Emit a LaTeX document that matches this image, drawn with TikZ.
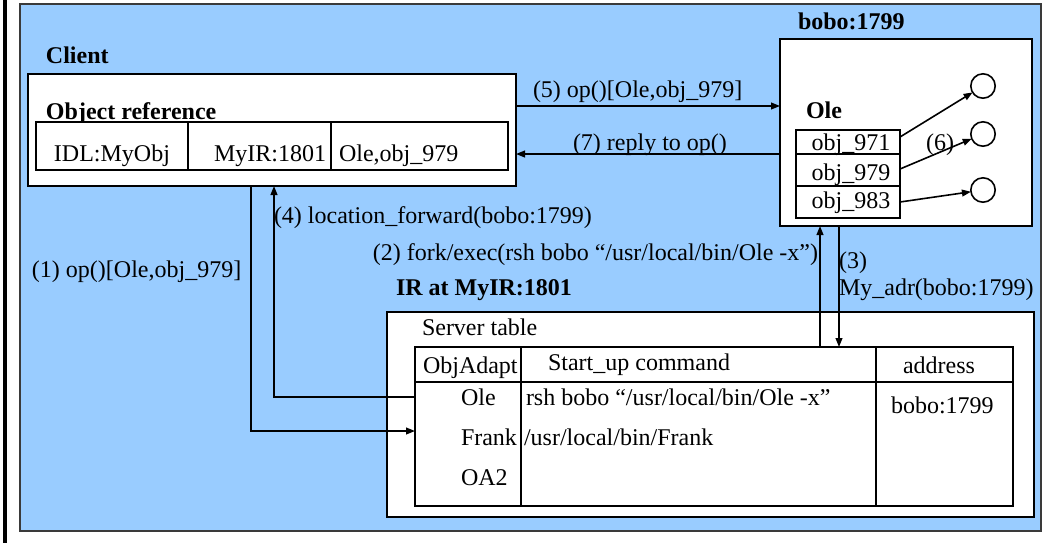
\documentclass[tikz,border=0pt]{standalone}
\usepackage{fontspec}
\setmainfont{Liberation Serif}
\usetikzlibrary{arrows.meta,fit,calc}
\definecolor{bgblue}{HTML}{99CCFF}
\definecolor{frameg}{HTML}{3A3A3A}
\begin{document}
\begin{tikzpicture}[x=0.5pt,y=-0.5pt,
  every node/.style={inner sep=0pt, outer sep=0pt},
  txt/.style={font=\fontsize{12}{14}\selectfont, anchor=base west},
  btxt/.style={font=\fontsize{12}{14}\selectfont\bfseries, anchor=base west},
  box/.style={draw=black, fill=white, line width=0.8pt, inner sep=0pt, fit={#1}},
  ln/.style={draw=black, line width=0.8pt},
  arr/.style={draw=black, line width=0.8pt, -{Triangle[length=4.5pt,width=3.4pt]}},
  blob/.style={draw=black, fill=white, line width=0.8pt, circle, minimum size=12.2pt},
]
\useasboundingbox (0,0) rectangle (1049,543);
\fill[white] (0,0) rectangle (1049,543);
\draw[line width=1.6pt] (5,0) -- (5,543);
\node[draw=frameg, fill=bgblue, line width=1.1pt, fit={(20,4) (1041,531)}] (bg) {};

% helper coordinates
\coordinate (y5) at (0,106);
\coordinate (y7) at (0,154);
\coordinate (x1) at (251,0);
\coordinate (y1) at (0,431);
\coordinate (x4) at (274,0);
\coordinate (y4) at (0,397);
\coordinate (x2) at (820,0);
\coordinate (x3) at (839,0);

% Client
\node[btxt] (clientlbl) at (46,63) {Client};
\node[box={(28,74) (516,186)}] (client) {};
\node[btxt] (reflbl) at (46,119) {Object reference};
\node[box={(36,122) (508,170)}] (ref) {};
\coordinate (d1) at (188,0);
\coordinate (d2) at (331,0);
\draw[ln] (ref.north -| d1) -- (ref.south -| d1);
\draw[ln] (ref.north -| d2) -- (ref.south -| d2);
\node[txt] (idl) at (54,161) {IDL:MyObj};
\node[txt] (myir) at (214,161) {MyIR:1801};
\node[txt] (oleobj) at (339,161) {Ole,obj\_979};

% bobo server
\node[btxt] (bobolbl) at (798,29) {bobo:1799};
\node[box={(780,39) (1032,226)}] (bobo) {};
\node[btxt] (olelbl) at (806,118) {Ole};
\node[box={(796,130) (900,154)}] (o971) {};
\node[box={(796,154) (900,186)}] (o979) {};
\node[box={(796,186) (900,218)}] (o983) {};
\node[txt, anchor=base] at (851,150) {obj\_971};
\node[txt, anchor=base] at (851,180) {obj\_979};
\node[txt, anchor=base] at (851,208) {obj\_983};
\node[blob] (c1) at (983,86) {};
\node[blob] (c2) at (983,134) {};
\node[blob] (c3) at (983,190) {};
\draw[arr] ($(o971.east)+(0,-5)$) -- (c1);
\draw[arr] ($(o979.east)+(0,-1)$) -- (c2);
\draw[arr] (o983.east) -- (c3);
\node[txt] (six) at (926,150) {(6)};

% messages between client and server
\draw[arr] (client.east |- y5) -- (bobo.west |- y5);
\node[txt] (m5) at (533,97) {(5) op()[Ole,obj\_979]};
\draw[arr] (bobo.west |- y7) -- (client.east |- y7);
\node[txt] (m7) at (573,150) {(7) reply to op()};

% IR
\node[btxt] (irlbl) at (396,295) {IR at MyIR:1801};
\node[box={(387,312) (1034,517)}] (srv) {};
\node[txt] (stlbl) at (422,335) {Server table};
\node[box={(415,347) (1013,506)}] (stab) {};
\coordinate (hl) at (0,382);
\coordinate (cA) at (521,0);
\coordinate (cB) at (876,0);
\draw[ln] (stab.west |- hl) -- (stab.east |- hl);
\draw[ln] (stab.north -| cA) -- (stab.south -| cA);
\draw[ln] (stab.north -| cB) -- (stab.south -| cB);
\node[txt] at (423,373) {ObjAdapt};
\node[txt] at (548,370) {Start\_up command};
\node[txt] at (903,373) {address};
\node[txt] (rowole) at (461,405) {Ole};
\node[txt] at (526,405) {rsh bobo “/usr/local/bin/Ole -x”};
\node[txt] at (891,413) {bobo:1799};
\node[txt] (rowfrank) at (461,445) {Frank};
\node[txt] at (524,445) {/usr/local/bin/Frank};
\node[txt] at (461,485) {OA2};

% connectors client <-> IR
\draw[arr] (client.south -| x1) |- (stab.west |- y1);
\node[txt] (m1) at (32,277) {(1) op()[Ole,obj\_979]};
\draw[arr] (stab.west |- y4) -| (client.south -| x4);
\node[txt] (m4) at (274,223) {(4) location\_forward(bobo:1799)};

% IR <-> bobo
\draw[arr] (stab.north -| x2) -- (bobo.south -| x2);
\node[txt, anchor=base east] (m2) at (818,260) {(2) fork/exec(rsh bobo “/usr/local/bin/Ole -x”)};
\draw[arr] ([yshift=-0.5pt]bobo.south -| x3) -- (stab.north -| x3);
\node[txt] (m3a) at (839,268) {(3)};
\node[txt] (m3b) at (839,295) {My\_adr(bobo:1799)};
\end{tikzpicture}
\end{document}
